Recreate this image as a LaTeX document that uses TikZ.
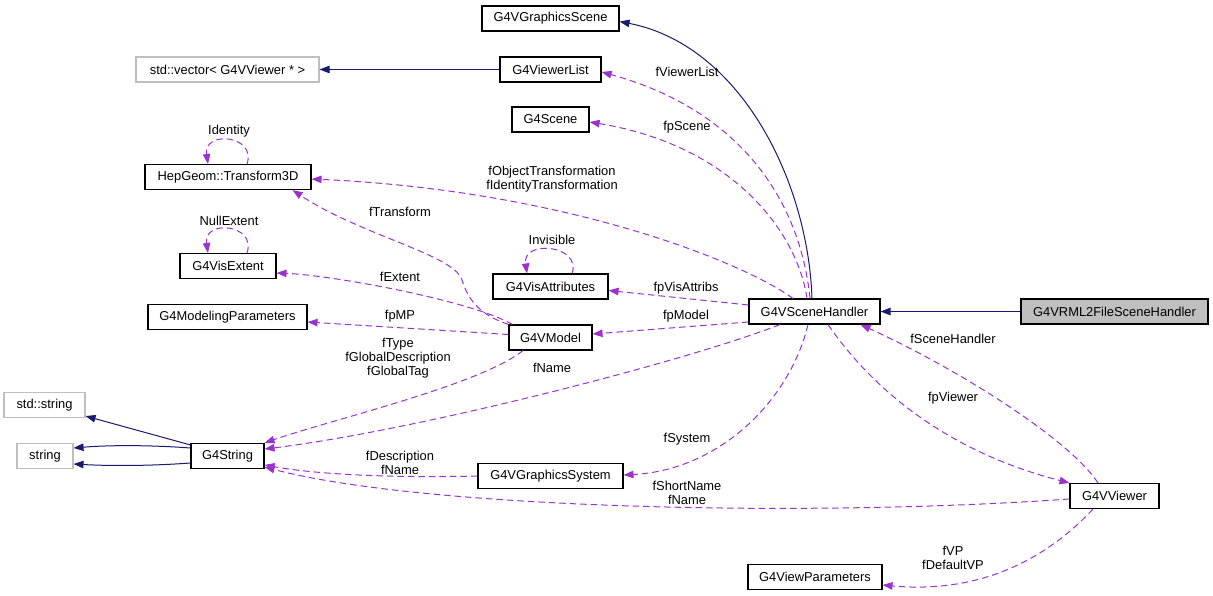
\documentclass[tikz,border=0pt]{standalone}
\usepackage{fontspec}
\setmainfont{Liberation Sans}
\usepackage{tikz}
\usetikzlibrary{arrows.meta}

\definecolor{edgepurple}{HTML}{9A32CD}
\definecolor{edgenavy}{HTML}{191970}
\definecolor{boxgray}{HTML}{BFBFBF}

\begin{document}
\begin{tikzpicture}[x=1pt,y=-1pt,
    font=\fontsize{12.9}{14}\selectfont,
    cls/.style={draw=black,line width=1.1pt,fill=white,minimum height=25pt,inner sep=0pt},
    extcls/.style={draw=boxgray,line width=1.1pt,fill=white,minimum height=25pt,inner sep=0pt},
    maincls/.style={draw=black,line width=1.1pt,fill=boxgray,minimum height=25pt,inner sep=0pt},
    lbl/.style={inner sep=0pt,align=center},
    member/.style={draw=edgepurple,line width=1pt,dash pattern=on 6.5pt off 4pt,-{Triangle[length=10pt,width=7.5pt]}},
    inherit/.style={draw=edgenavy,line width=1pt,-{Triangle[length=10pt,width=7.5pt]}}]
      \useasboundingbox (0,0) rectangle (1213,596);

      \node[cls,minimum width=137pt] (gscene) at (550.5,18.5) {G4VGraphicsScene};
      \node[extcls,minimum width=183pt] (vec) at (227.5,69.5) {std::vector< G4VViewer * >};
      \node[cls,minimum width=101pt] (vlist) at (550.5,69.5) {G4ViewerList};
      \node[cls,minimum width=77pt] (scene) at (550.5,119.5) {G4Scene};
      \node[cls,minimum width=166pt] (trans) at (228,177) {HepGeom::Transform3D};
      \node[cls,minimum width=96pt] (extent) at (228,266) {G4VisExtent};
      \node[cls,minimum width=159pt] (mparams) at (227.5,317) {G4ModelingParameters};
      \node[cls,minimum width=115pt] (visatt) at (550.5,286.5) {G4VisAttributes};
      \node[cls,minimum width=83pt] (model) at (550.5,337.5) {G4VModel};
      \node[cls,minimum width=131pt] (handler) at (814.5,311.5) {G4VSceneHandler};
      \node[maincls,minimum width=187pt] (vrml) at (1114.5,311.5) {G4VRML2FileSceneHandler};
      \node[cls,minimum width=89pt] (viewer) at (1114.5,496) {G4VViewer};
      \node[cls,minimum width=134pt] (vparams) at (815,577) {G4ViewParameters};
      \node[extcls,minimum width=81pt] (stdstr) at (44.5,405) {std::string};
      \node[extcls,minimum width=56pt] (str) at (45,456) {string};
      \node[cls,minimum width=73pt] (g4str) at (227.5,456) {G4String};
      \node[cls,minimum width=145pt] (gsys) at (550.5,476) {G4VGraphicsSystem};

      \draw[inherit] (vrml.west) -- (handler.east);
      \draw[inherit] ([xshift=-2.5pt]handler.north) .. controls (808,180) and (740,45) .. ([yshift=-3pt]gscene.east);
      \draw[inherit] (vlist.west) -- (vec.east);
      \draw[inherit] ([yshift=-2pt]g4str.north west) -- ([yshift=2pt]stdstr.south east);
      \draw[inherit] ([yshift=8pt]g4str.west) .. controls (150,445) and (110,445) .. ([yshift=8pt]str.east);
      \draw[inherit] ([yshift=-7pt]g4str.west) .. controls (150,466) and (110,466) .. ([yshift=-8pt]str.east);

      \draw[member] ([xshift=19pt]trans.north) .. controls (257,135) and (203,130) .. ([xshift=-20pt]trans.north);
      \draw[member] ([xshift=19pt]extent.north) .. controls (257,224) and (203,219) .. ([xshift=-20pt]extent.north);
      \draw[member] ([xshift=21.5pt]visatt.north) .. controls (582,245) and (522,239) .. ([xshift=-23.5pt]visatt.north);
      \node[lbl] (lidentity) at (229,131) {Identity};
      \node[lbl] (lnullext) at (229,221) {NullExtent};
      \node[lbl] (linvis) at (552,240) {Invisible};

      \draw[member] ([xshift=-4.5pt]handler.north) .. controls (800,200) and (740,110) .. ([yshift=-2.5pt]vlist.east);
      \draw[member] ([xshift=-7.5pt]handler.north) .. controls (797,230) and (730,145) .. ([yshift=-2.5pt]scene.east);
      \draw[member] ([xshift=-21.5pt]handler.north) .. controls (740,260) and (560,190) .. ([yshift=-2pt]trans.east);
      \draw[member] ([yshift=6.5pt]handler.west) -- ([yshift=-4pt]visatt.east);
      \draw[member] ([yshift=-10.5pt]handler.west) -- ([yshift=3.5pt]model.east);
      \draw[member] ([xshift=-34.5pt]handler.south) .. controls (690,360) and (420,430) .. ([yshift=7pt]g4str.east);
      \draw[member] ([xshift=-6.5pt]handler.south) .. controls (790,400) and (720,470) .. ([yshift=1pt]gsys.east);
      \draw[member] ([xshift=13.5pt]handler.south) .. controls (880,400) and (960,455) .. (viewer.north west);
      \draw[member] ([xshift=-16.5pt]viewer.north) .. controls (1070,440) and (960,370) .. ([xshift=-20pt]handler.south east);
      \draw[member] ([yshift=-3pt]viewer.west) .. controls (800,518) and (420,508) .. ([yshift=-11pt]g4str.east);
      \draw[member] ([xshift=-21.5pt]viewer.south) .. controls (1055,550) and (990,595) .. ([yshift=-8pt]vparams.east);
      \draw[member] (gsys.west) .. controls (400,478) and (320,475) .. ([yshift=-9pt]g4str.east);
      \draw[member] ([xshift=-27.5pt]model.south) .. controls (480,385) and (330,420) .. (g4str.north east);
      \draw[member] (model.north west) .. controls (480,315) and (468,300) .. (462,280) .. controls (455,255) and (360,235) .. ([xshift=-19pt]trans.south east);
      \draw[member] ([xshift=4pt]model.north west) .. controls (470,300) and (330,275) .. ([yshift=-7pt]extent.east);
      \draw[member] ([yshift=3pt]model.west) -- ([yshift=-5pt]mparams.east);

      \node[lbl] (lviewerlist) at (687,72) {fViewerList};
      \node[lbl] (lscene) at (687,127) {fpScene};
      \node[lbl] (ltrans) at (552,179) {fObjectTransformation\\fIdentityTransformation};
      \node[lbl] (ltransform) at (400,212) {fTransform};
      \node[lbl] (lextent) at (400,277) {fExtent};
      \node[lbl] (lmp) at (400,316) {fpMP};
      \node[lbl] (lvisatt) at (686,288) {fpVisAttribs};
      \node[lbl] (lmodel) at (686,316) {fpModel};
      \node[lbl] (ltype) at (398,358) {fType\\fGlobalDescription\\fGlobalTag};
      \node[lbl] (lname) at (552,368) {fName};
      \node[lbl] (ldescr) at (400,463) {fDescription\\fName};
      \node[lbl] (lsystem) at (687,439) {fSystem};
      \node[lbl] (lshort) at (687,493) {fShortName\\fName};
      \node[lbl] (lhandler) at (953,339) {fSceneHandler};
      \node[lbl] (lviewer) at (953,398) {fpViewer};
      \node[lbl] (lvp) at (953,558) {fVP\\fDefaultVP};
    \end{tikzpicture}
\end{document}
